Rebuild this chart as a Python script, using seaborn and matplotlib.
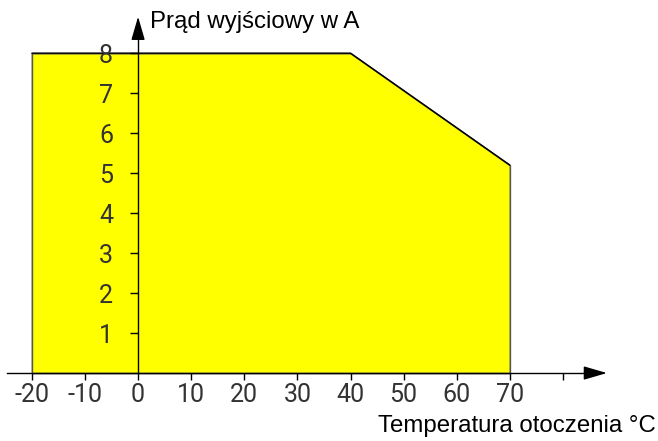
import matplotlib
matplotlib.use("Agg")
import matplotlib.pyplot as plt
import seaborn as sns

# derating curve: output current vs ambient temperature
temps = [-20, 40, 70]
current = [8, 8, 5.2]
x_ticks = [-20, -10, 0, 10, 20, 30, 40, 50, 60, 70, 80]
x_labels = ["-20", "-10", "0", "10", "20", "30", "40", "50", "60", "70", ""]
y_ticks = [1, 2, 3, 4, 5, 6, 7, 8]
y_labels = ["1", "2", "3", "4", "5", "6", "7", "8"]

sns.set_theme(style="white")
plt.rcParams["font.family"] = ["Liberation Sans", "DejaVu Sans"]

fig = plt.figure(figsize=(6.58, 4.41), dpi=100)
ax = fig.add_axes([0, 0, 1, 1])
ax.set_axisbelow(False)

ax.fill_between(temps, current, 0, facecolor="#ffff00", edgecolor="#555555",
                linewidth=1.2, zorder=1)
sns.lineplot(x=temps, y=current, color="black", linewidth=1, ax=ax, zorder=2)

ax.set_xlim(-26, 97.9)
ax.set_ylim(-1.7, 9.33)

for s in ["top", "right"]:
    ax.spines[s].set_visible(False)
ax.spines["left"].set_position(("data", 0))
ax.spines["bottom"].set_position(("data", 0))
ax.spines["left"].set_bounds(0, 8.4)
ax.spines["bottom"].set_bounds(-24.7, 84)
for s in ["left", "bottom"]:
    ax.spines[s].set_color("black")
    ax.spines[s].set_linewidth(1)
    ax.spines[s].set_zorder(3)

# arrow heads
ax.annotate("", xy=(88.8, 0), xytext=(83.5, 0),
            arrowprops=dict(arrowstyle="-|>,head_length=1.2,head_width=0.35", color="black", lw=1))
ax.annotate("", xy=(0, 8.98), xytext=(0, 8.3),
            arrowprops=dict(arrowstyle="-|>,head_length=1.2,head_width=0.35", color="black", lw=1))

ax.set_xticks(x_ticks)
ax.set_xticklabels(x_labels)
ax.set_yticks(y_ticks)
ax.set_yticklabels(y_labels)
ax.tick_params(axis="x", direction="out", length=5, width=1, pad=2, colors="black",
               labelsize=18, bottom=True)
ax.tick_params(axis="y", direction="out", length=6, width=1, pad=12, colors="black",
               labelsize=18, left=True)
for lab in ax.get_xticklabels() + ax.get_yticklabels():
    lab.set_family(["Roboto", "DejaVu Sans"])
    lab.set_fontstretch("condensed")
    lab.set_fontweight("normal")
    lab.set_color("#333333")
ax.grid(False)

ax.text(2.3, 8.78, "Prąd wyjściowy w A", fontsize=17.3, color="black", va="center", ha="left")
ax.text(97.4, -1.33, "Temperatura otoczenia °C", fontsize=17.3, color="black", va="center", ha="right")

fig.savefig("out.png", dpi=100)
